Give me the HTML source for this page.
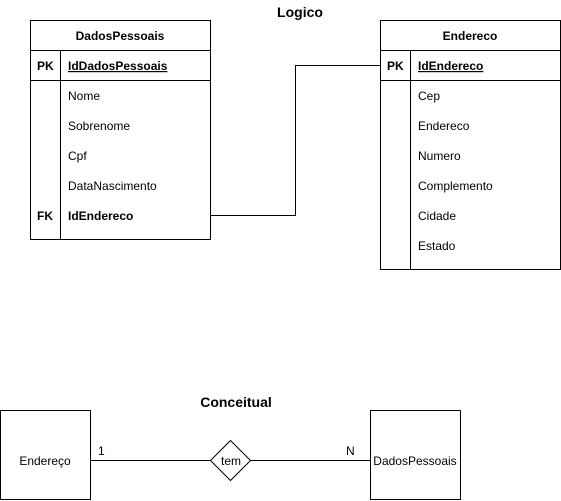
<!DOCTYPE html>
<html><head><meta charset="utf-8"><style>
html,body{margin:0;padding:0;background:#fff;}
svg{display:block;}
text{font-family:"Liberation Sans",Arial,sans-serif;font-size:12px;fill:#000;}
.b{font-weight:bold;}
.t{font-weight:bold;font-size:14px;}
</style></head><body>
<svg width="561" height="501" viewBox="0 0 561 501" xmlns="http://www.w3.org/2000/svg">
<g fill="none" stroke="#000" stroke-width="1" shape-rendering="crispEdges">
<rect x="30.5" y="20.5" width="180" height="219"/>
<line x1="30" y1="50.5" x2="211" y2="50.5"/>
<line x1="30" y1="80.5" x2="211" y2="80.5"/>
<line x1="60.5" y1="50" x2="60.5" y2="240"/>
<rect x="380.5" y="20.5" width="180" height="249"/>
<line x1="380" y1="50.5" x2="561" y2="50.5"/>
<line x1="380" y1="80.5" x2="561" y2="80.5"/>
<line x1="410.5" y1="50" x2="410.5" y2="270"/>
<polyline points="211,215.5 295.5,215.5 295.5,65.5 380,65.5"/>
<rect x="0.5" y="410.5" width="90" height="89"/>
<rect x="370.5" y="410.5" width="90" height="89"/>
<line x1="91" y1="460.5" x2="210" y2="460.5"/>
<line x1="251" y1="460.5" x2="370" y2="460.5"/>
</g>
<polygon points="230.5,440.5 250.5,460.5 230.5,480.5 210.5,460.5" fill="#fff" stroke="#000"/>
<text x="300" y="17" class="t" text-anchor="middle">Logico</text>
<text x="120" y="40" class="b" text-anchor="middle">DadosPessoais</text>
<text x="37" y="70" class="b">PK</text>
<text x="68" y="70" class="b" text-decoration="underline">IdDadosPessoais</text>
<text x="68" y="100">Nome</text>
<text x="68" y="130">Sobrenome</text>
<text x="68" y="160">Cpf</text>
<text x="68" y="190">DataNascimento</text>
<text x="37" y="220" class="b">FK</text>
<text x="68" y="220" class="b">IdEndereco</text>
<text x="470" y="40" class="b" text-anchor="middle">Endereco</text>
<text x="387" y="70" class="b">PK</text>
<text x="418" y="70" class="b" text-decoration="underline">IdEndereco</text>
<text x="418" y="100">Cep</text>
<text x="418" y="130">Endereco</text>
<text x="418" y="160">Numero</text>
<text x="418" y="190">Complemento</text>
<text x="418" y="220">Cidade</text>
<text x="418" y="250">Estado</text>
<text x="236" y="407" class="t" text-anchor="middle">Conceitual</text>
<text x="45" y="465" text-anchor="middle">Endereço</text>
<text x="415" y="465" text-anchor="middle">DadosPessoais</text>
<text x="231" y="465" text-anchor="middle">tem</text>
<text x="98" y="455">1</text>
<text x="346" y="455">N</text>
</svg>
</body></html>
